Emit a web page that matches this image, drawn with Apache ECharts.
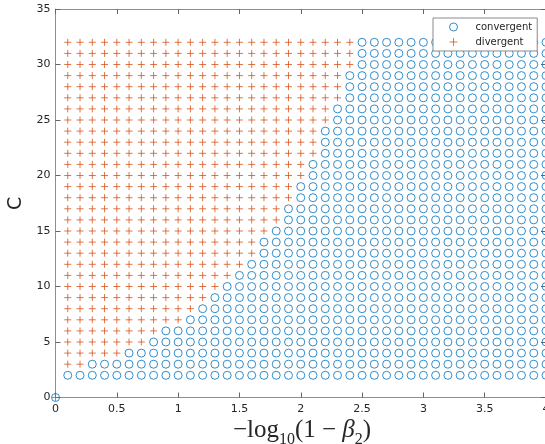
<!DOCTYPE html>
<html>
<head>
<meta charset="utf-8">
<script src="https://cdn.jsdelivr.net/npm/echarts@6/dist/echarts.min.js"></script>
<style>html,body{margin:0;padding:0;background:#fff;}#c{width:545px;height:444px;}</style>
</head>
<body>
<div id="c"></div>
<script>
// x grid: -log10(1 - beta2)
const xValues = [0.1,0.2,0.3,0.4,0.5,0.6,0.7,0.8,0.9,1.0,1.1,1.2,1.3,1.4,1.5,1.6,1.7,1.8,1.9,2.0,
                 2.1,2.2,2.3,2.4,2.5,2.6,2.7,2.8,2.9,3.0,3.1,3.2,3.3,3.4,3.5,3.6,3.7,3.8,3.9,4.0];
// C grid
const cValues = [2,3,4,5,6,7,8,9,10,11,12,13,14,15,16,17,18,19,20,21,22,23,24,25,26,27,28,29,30,31,32];
// smallest x that is convergent, for each C row
const firstConvergentX = [0.1,0.3,0.6,0.8,0.9,1.1,1.2,1.3,1.4,1.5,1.6,1.7,1.7,1.8,1.9,1.9,2.0,2.0,2.1,2.1,
                          2.2,2.2,2.2,2.3,2.3,2.4,2.4,2.4,2.5,2.5,2.5];
// extra point at origin shared by both series
const originPoint = [0, 0];
const xTicks = [0, 0.5, 1, 1.5, 2, 2.5, 3, 3.5, 4];
const yTicks = [0, 5, 10, 15, 20, 25, 30, 35];

const convergent = [originPoint.slice()];
const divergent = [originPoint.slice()];
cValues.forEach((c, i) => {
  xValues.forEach(x => {
    if (x >= firstConvergentX[i] - 1e-9) convergent.push([x, c]);
    else divergent.push([x, c]);
  });
});

const BLUE = '#0072BD', ORANGE = '#D95319';
const frame = '#8f8f8f', tickC = '#666', txt = '#262626';
const chart = echarts.init(document.getElementById('c'), null, {renderer: 'canvas'});
const plusPath = 'path://M0,5L10,5M5,0L5,10';

const xBase = {type:'value', min:xTicks[0], max:xTicks[xTicks.length-1], interval:0.5, splitLine:{show:false},
  axisLine:{show:true, onZero:false, lineStyle:{color:frame, width:1}},
  axisTick:{show:true, inside:true, length:5, lineStyle:{color:tickC}}};
const yBase = {type:'value', min:yTicks[0], max:yTicks[yTicks.length-1], interval:5, splitLine:{show:false},
  axisLine:{show:true, onZero:false, lineStyle:{color:frame, width:1}},
  axisTick:{show:true, inside:true, length:5, lineStyle:{color:tickC}}};

chart.setOption({
  animation: false,
  backgroundColor: '#fff',
  grid: {left: 55.5, width: 490.5, top: 9, height: 388.5, containLabel: false, outerBoundsMode: 'none'},
  xAxis: [
    Object.assign({}, xBase, {position:'bottom',
      axisLabel:{show:true, color:txt, fontSize:11, fontFamily:'DejaVu Sans', margin:6, showMaxLabel:true, hideOverlap:false}}),
    Object.assign({}, xBase, {position:'top', axisLabel:{show:false}})
  ],
  yAxis: [
    Object.assign({}, yBase, {position:'left',
      name:'C', nameLocation:'middle', nameGap:27, nameRotate:90,
      nameTextStyle:{fontSize:19, fontFamily:'DejaVu Sans', color:txt},
      axisLabel:{show:true, color:txt, fontSize:11, fontFamily:'DejaVu Sans', margin:5}}),
    Object.assign({}, yBase, {position:'right', axisLabel:{show:false}})
  ],
  legend: {
    orient: 'vertical', left: 433, top: 18,
    backgroundColor: '#fff', borderColor: '#8a8a8a', borderWidth: 1, borderRadius: 0,
    padding: [3, 5, 3, 16], itemGap: 3, itemWidth: 8, itemHeight: 8,
    textStyle: {color: txt, fontSize: 10, fontFamily: 'DejaVu Sans', lineHeight: 12, padding: [0,0,0,13]},
    data: [
      {name:'convergent', icon:'circle', itemStyle:{color:'transparent', borderColor:BLUE, borderWidth:1}},
      {name:'divergent', icon:plusPath, itemStyle:{color:'transparent', borderColor:ORANGE, borderWidth:1}}
    ]
  },
  graphic: [
    {type:'text', x:302, y:433, silent:true,
      style:{text:'{n|−log}{s|10}{n|(1 − }{i|β}{s|2}{n|)}', align:'center', verticalAlign:'middle', fill:txt,
        rich:{
          n:{fontSize:25, fontFamily:'Liberation Serif', fill:txt, lineHeight:30, verticalAlign:'top'},
          i:{fontSize:25, fontFamily:'Liberation Serif', fontStyle:'italic', fill:txt, lineHeight:30, verticalAlign:'top'},
          s:{fontSize:16, fontFamily:'Liberation Serif', fill:txt, lineHeight:16, verticalAlign:'bottom'}
        }}}
  ],
  series: [
    {name:'convergent', type:'scatter', data:convergent, symbol:'circle', symbolSize:8,
      itemStyle:{color:'transparent', borderColor:BLUE, borderWidth:1}, z:2, emphasis:{disabled:true}},
    {name:'divergent', type:'scatter', data:divergent, symbol:plusPath, symbolSize:7,
      itemStyle:{color:'transparent', borderColor:ORANGE, borderWidth:1}, z:3, emphasis:{disabled:true}}
  ]
});
</script>
</body>
</html>
